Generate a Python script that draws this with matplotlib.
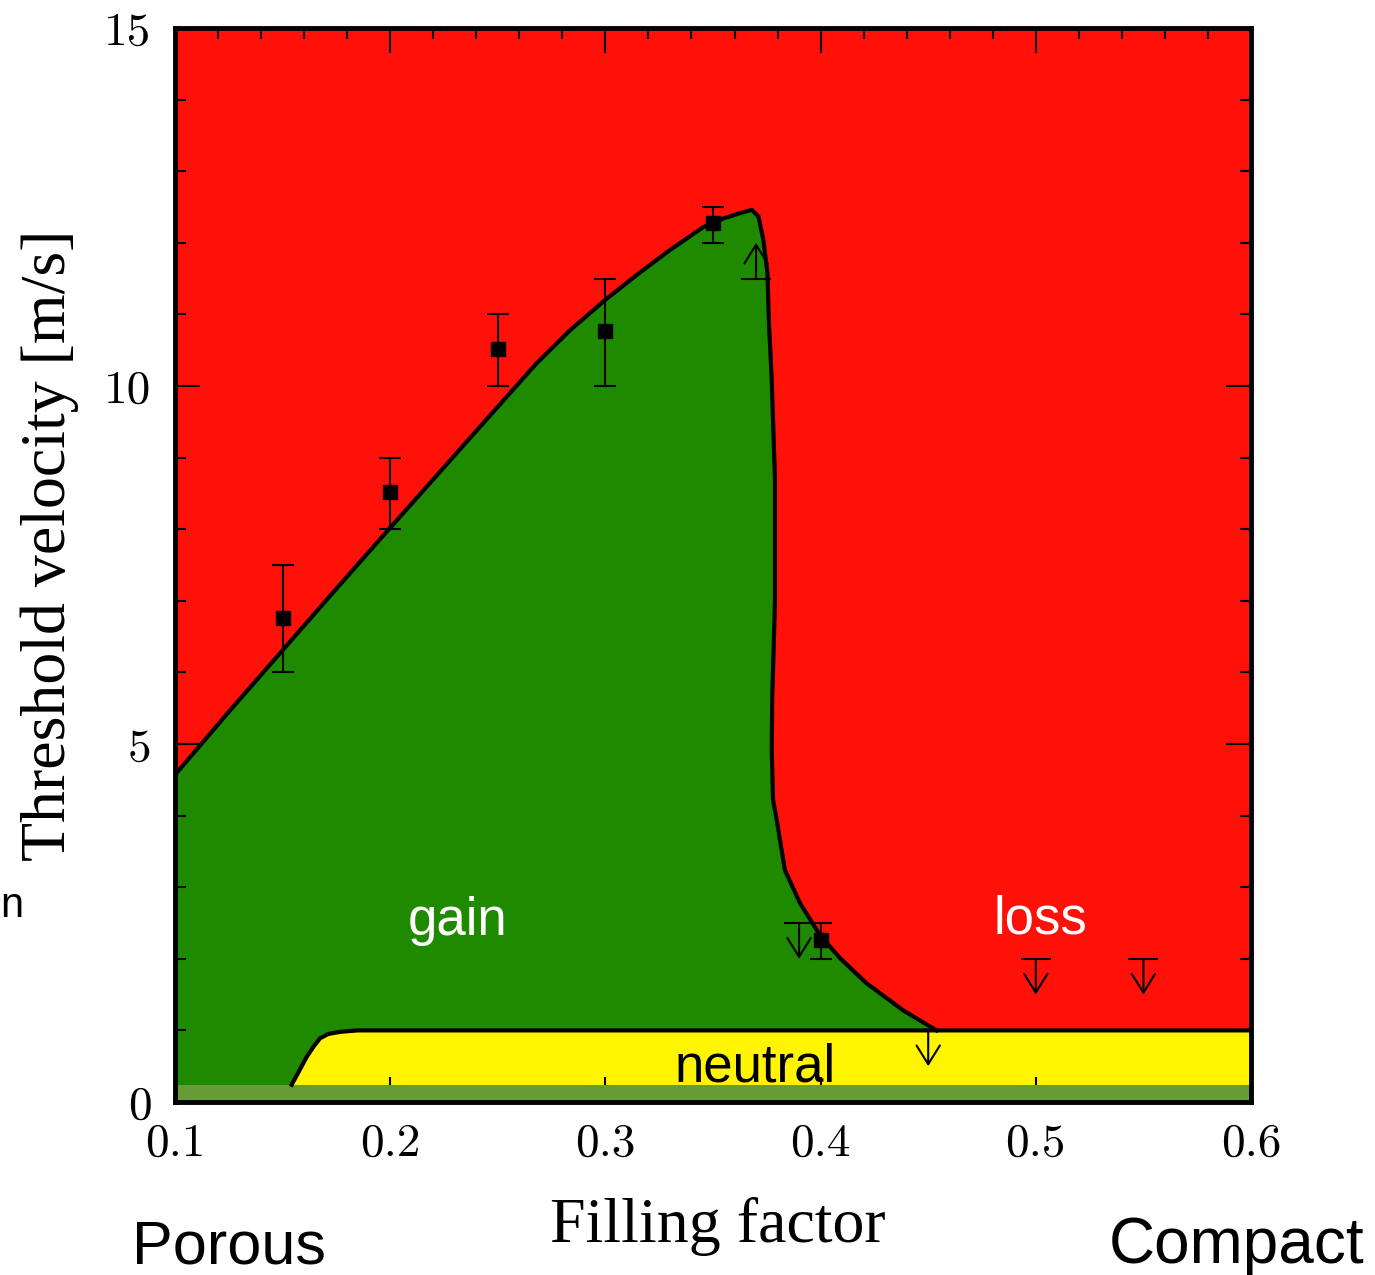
import matplotlib.pyplot as plt
from matplotlib.ticker import MultipleLocator

# gain/loss boundary (filling factor, threshold velocity)
edge_x = [0.100, 0.125, 0.150, 0.175, 0.200, 0.2417, 0.2681, 0.2836, 0.2998,
          0.3145, 0.3300, 0.3455, 0.3548, 0.3620, 0.3680, 0.3711, 0.3734,
          0.3753, 0.3760, 0.3773, 0.3788, 0.3788, 0.3775, 0.3773, 0.3779,
          0.3796, 0.3834, 0.3904, 0.3997, 0.4090, 0.4213, 0.4384, 0.4539]
edge_y = [4.57, 5.45, 6.31, 7.17, 8.02, 9.43, 10.32, 10.78, 11.20,
          11.55, 11.90, 12.22, 12.34, 12.41, 12.46, 12.37, 12.04,
          11.58, 10.88, 10.08, 8.69, 7.01, 5.60, 4.92, 4.22,
          3.94, 3.24, 2.78, 2.33, 2.01, 1.66, 1.28, 1.00]

# top of the neutral zone
neutral_x = [0.1542, 0.1612, 0.1643, 0.1674, 0.1712, 0.1767, 0.185, 0.600]
neutral_y = [0.24, 0.63, 0.77, 0.89, 0.95, 0.98, 1.00, 1.00]
band_top = 0.24

# measured thresholds with error bars
pts_x = [0.15, 0.20, 0.25, 0.30, 0.35, 0.40]
pts_y = [6.76, 8.52, 10.52, 10.77, 12.28, 2.26]
err_lo = [0.76, 0.52, 0.52, 0.77, 0.28, 0.26]
err_hi = [0.74, 0.48, 0.48, 0.73, 0.22, 0.24]

# upper limits (arrow down) and lower limits (arrow up)
upper_x = [0.39, 0.45, 0.50, 0.55]
upper_from = [2.5, 1.0, 2.0, 2.0]
upper_to = [2.0, 0.5, 1.5, 1.5]
lower_x = [0.37]
lower_from = [11.5]
lower_to = [12.0]

RED = '#ff1109'
GREEN = '#1e8a00'
YELLOW = '#fff500'
OLIVE = '#669b38'

fig = plt.figure(figsize=(13.75, 12.75), dpi=100)
ax = fig.add_axes([175 / 1375, 1 - 1102 / 1275, (1251 - 175) / 1375, (1102 - 28) / 1275])

ax.set_facecolor(RED)
ax.fill(edge_x + [edge_x[-1], edge_x[0]], edge_y + [0, 0], color=GREEN, lw=0, zorder=1)
ax.fill(neutral_x + [neutral_x[-1], neutral_x[0]], neutral_y + [0, 0], color=YELLOW, lw=0, zorder=1.1)
ax.axhspan(0, band_top, color=OLIVE, lw=0, zorder=1.8)

ax.plot(edge_x, edge_y, color='k', lw=3, zorder=3, solid_joinstyle='round')
ax.plot(neutral_x, neutral_y, color='k', lw=3, zorder=3, solid_joinstyle='round')

ax.errorbar(pts_x, pts_y, yerr=[err_lo, err_hi], fmt='s', color='k', ms=10,
            elinewidth=1.5, capsize=8, capthick=1.5, zorder=4)

arrow = dict(arrowstyle='->,head_length=0.45,head_width=0.28', lw=1.5,
             color='k', shrinkA=0, shrinkB=0, mutation_scale=30)
for x, y0, y1 in zip(upper_x + lower_x, upper_from + lower_from, upper_to + lower_to):
    ax.annotate('', xy=(x, y1), xytext=(x, y0), arrowprops=arrow, zorder=4)
    ax.plot([x], [y0], marker='_', ms=22, mew=1.5, color='k', zorder=4)

ax.text(0.2315, 2.33, 'gain', color='white', fontsize=38, family='Liberation Sans',
        ha='center', va='baseline', zorder=5)
ax.text(0.502, 2.36, 'loss', color='white', fontsize=38, family='Liberation Sans',
        ha='center', va='baseline', zorder=5)
ax.text(0.3695, 0.28, 'neutral', color='black', fontsize=38, family='Liberation Sans',
        ha='center', va='baseline', zorder=5)

ax.set_xlim(0.1, 0.6)
ax.set_ylim(0, 15)
ax.xaxis.set_major_locator(MultipleLocator(0.1))
ax.xaxis.set_minor_locator(MultipleLocator(0.02))
ax.yaxis.set_major_locator(MultipleLocator(5))
ax.yaxis.set_minor_locator(MultipleLocator(1))
ax.tick_params(which='both', direction='in', top=True, right=True, width=1.5)
ax.tick_params(which='major', length=18)
ax.tick_params(which='minor', length=8)
ax.tick_params(axis='x', pad=15)
ax.tick_params(axis='y', pad=17)
for lab in ax.get_xticklabels() + ax.get_yticklabels():
    lab.set_family('cmr10')
    lab.set_fontsize(34)
for sp in ax.spines.values():
    sp.set_linewidth(3.5)
    sp.set_zorder(6)

fig.text(50 / 1375, 1 - 545 / 1275, 'Threshold velocity [m/s]', rotation=90,
         family='Liberation Serif', fontsize=46, ha='center', va='center')
fig.text(718 / 1375, 1 - 1242 / 1275, 'Filling factor', family='Liberation Serif',
         fontsize=46, ha='center', va='baseline')
fig.text(229 / 1375, 1 - 1263 / 1275, 'Porous', family='Liberation Sans',
         fontsize=44, ha='center', va='baseline')
fig.text(1237 / 1375, 1 - 1263 / 1275, 'Compact', family='Liberation Sans',
         fontsize=46, ha='center', va='baseline')
fig.text(0.0, 1 - 917 / 1275, 'n', family='Liberation Sans', fontsize=30,
         ha='left', va='baseline')

fig.savefig('out.png', dpi=100)
